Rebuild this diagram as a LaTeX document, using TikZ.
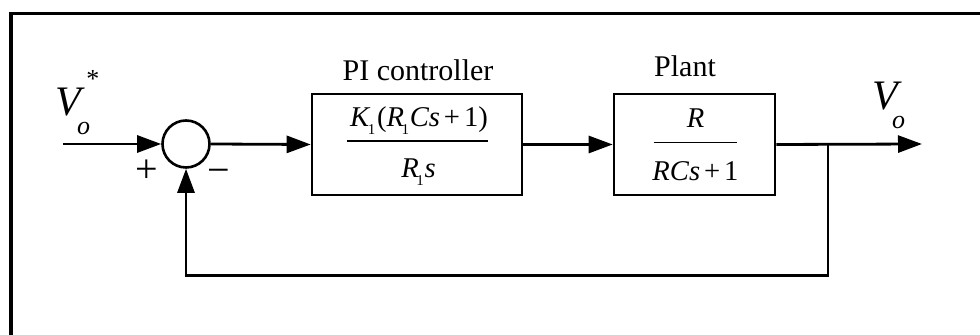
\documentclass[tikz,border=0pt]{standalone}
\usepackage{fontspec}
\setmainfont{Liberation Serif}
\usetikzlibrary{arrows.meta}
\newcommand{\subone}{\raisebox{-3.6pt}{\fontsize{7.5}{7.5}\selectfont 1}}
\newcommand{\fracsize}{\fontsize{14.3}{16}\selectfont}
\begin{document}
\begin{tikzpicture}[x=0.5pt,y=-0.5pt,
		conn/.style={line width=1.4pt,-{Triangle[length=12pt,width=8.5pt]}},
		block/.style={draw,line width=1.3pt,minimum width=#1,minimum height=50.5pt,inner sep=0pt},
		sumnode/.style={draw,circle,line width=1.3pt,minimum size=23.5pt,inner sep=0pt},
		title/.style={anchor=base,inner sep=0pt,font=\fontsize{15}{18}\selectfont},
		fracpart/.style={anchor=base,inner sep=0pt,font=\fracsize},
		sign/.style={inner sep=0pt,font=\fontsize{20}{22}\selectfont},
		vlabel/.style={anchor=base west,inner sep=0pt,font=\fontsize{21}{24}\selectfont\itshape}]
	\useasboundingbox (0,0) rectangle (980,335);
	% frame
	\draw[line width=1.6pt] (11,345) -- (11,13.5) -- (990,13.5);
	% blocks
	\node[sumnode] (sum) at (186,144) {};
	\node[block=105pt] (pi) at (417,144.5) {};
	\node[block=80.5pt] (plant) at (694.5,144.5) {};
	\node[title] (pititle) at (418,81) {PI controller};
	\node[title] (planttitle) at (685,77) {Plant};
	% transfer functions
	\node[fracpart] (pinum) at (419,127) {\textit{K}\kern-1.2pt\subone\kern0.8pt(\textit{R}\kern-1.2pt\subone\kern0.3pt\textit{Cs}\kern2pt+\kern2pt1)};
	\node[fracpart] (piden) at (418.5,178) {\textit{R}\kern-1.2pt\subone\kern0.3pt\textit{s}};
	\draw[line width=0.7pt] (347,141) -- (488,141);
	\node[fracpart] (plantnum) at (695.5,128) {\textit{R}};
	\node[fracpart] (plantden) at (695.5,181) {\textit{RCs}\kern2pt+\kern2pt1};
	\draw[line width=0.7pt] (654,142.3) -- (737,142.3);
	% signals
	\node[vlabel] (vref) at (55,116) {V\rlap{\kern-2pt\raisebox{-9.5pt}{\fontsize{13}{15}\selectfont o}}\rlap{\kern2.6pt\raisebox{14pt}{\upshape\fontsize{13}{15}\selectfont *}}};
	\node[vlabel] (vout) at (872,110) {V\rlap{\kern-3pt\raisebox{-9.5pt}{\fontsize{13}{15}\selectfont o}}};
	\node[sign] (plus) at (147,171) {+};
	\node[sign] (minus) at (219,176) {\char"2212};
	\coordinate (in) at (62.7,144);
	\coordinate (out) at (922,144);
	\coordinate (br) at (828,144);
	\coordinate (fb) at (828,275.5);
	\draw[conn] (in) -- (sum.west);
	\draw[conn] (sum.east) -- (pi.west);
	\draw[conn] (pi.east) -- (plant.west);
	\draw[conn] (plant.east) -- (out);
	\draw[conn] (br) -- (fb) -| (sum.south);
\end{tikzpicture}
\end{document}
